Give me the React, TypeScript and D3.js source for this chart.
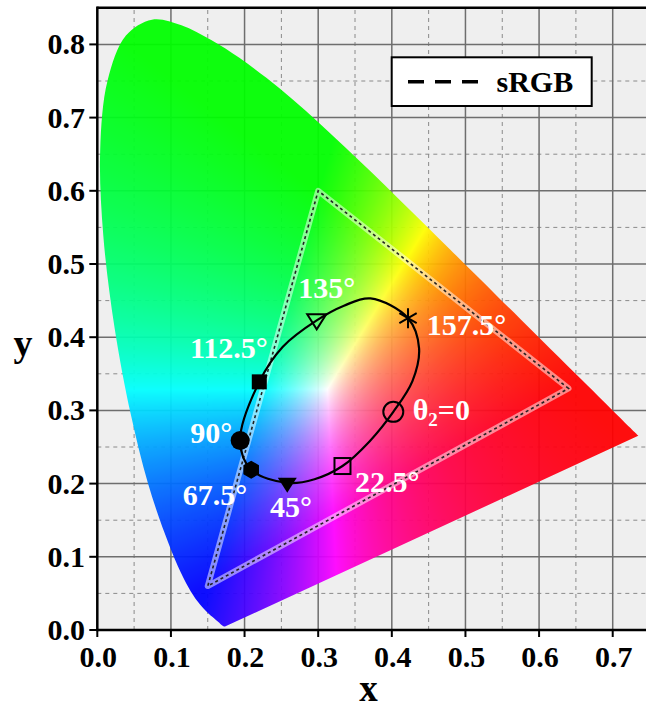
import React, { useMemo } from "react";
import * as d3 from "d3";

// CIE 1931 2° spectral locus (chromaticity x, y), 380–700 nm
const locusX = [0.1741, 0.174, 0.1738, 0.1736, 0.1733, 0.173, 0.1726, 0.1721, 0.1714, 0.1703, 0.1689, 0.1669, 0.1644, 0.1611, 0.1566, 0.151, 0.144, 0.1355, 0.1241, 0.1096, 0.0913, 0.0687, 0.0454, 0.0235, 0.0082, 0.0039, 0.0139, 0.0389, 0.0743, 0.1142, 0.1547, 0.1929, 0.2296, 0.2658, 0.3016, 0.3373, 0.3731, 0.4087, 0.4441, 0.4788, 0.5125, 0.5448, 0.5752, 0.6029, 0.627, 0.6482, 0.6658, 0.6801, 0.6915, 0.7006, 0.7079, 0.714, 0.719, 0.723, 0.726, 0.73, 0.7347];
const locusY = [0.005, 0.005, 0.0049, 0.0049, 0.0048, 0.0048, 0.0048, 0.0048, 0.0051, 0.0058, 0.0069, 0.0086, 0.0109, 0.0138, 0.0177, 0.0227, 0.0297, 0.0399, 0.0578, 0.0868, 0.1327, 0.2007, 0.295, 0.4127, 0.5384, 0.6548, 0.7502, 0.812, 0.8338, 0.8262, 0.8059, 0.7816, 0.7543, 0.7243, 0.6923, 0.6589, 0.6245, 0.5896, 0.5547, 0.5202, 0.4866, 0.4544, 0.4242, 0.3965, 0.3725, 0.3514, 0.334, 0.3197, 0.3083, 0.2993, 0.292, 0.2859, 0.2809, 0.277, 0.274, 0.27, 0.2653];

// sRGB primaries
const srgbX = [0.64, 0.3, 0.15];
const srgbY = [0.33, 0.6, 0.06];

// Closed curve traced through the θ2 points
const curveX = [0.402, 0.37, 0.333, 0.295, 0.258, 0.209, 0.194, 0.22, 0.252, 0.298, 0.335, 0.371, 0.422, 0.437, 0.428];
const curveY = [0.298, 0.258, 0.224, 0.206, 0.201, 0.219, 0.259, 0.339, 0.387, 0.423, 0.443, 0.453, 0.426, 0.385, 0.34];

// Marked θ2 points
const angleLabels = ["0", "22.5°", "45°", "67.5°", "90°", "112.5°", "135°", "157.5°"];
const markX = [0.402, 0.333, 0.258, 0.209, 0.194, 0.22, 0.298, 0.422];
const markY = [0.298, 0.224, 0.201, 0.219, 0.259, 0.339, 0.423, 0.426];
const markShape = ["circleOpen", "squareOpen", "triDownFilled", "hexFilled", "circleFilled", "squareFilled", "triDownOpen", "asterisk"];

const xTicks = [0, 0.1, 0.2, 0.3, 0.4, 0.5, 0.6, 0.7];
const yTicks = [0, 0.1, 0.2, 0.3, 0.4, 0.5, 0.6, 0.7, 0.8];
const xMinor = [0.05, 0.15, 0.25, 0.35, 0.45, 0.55, 0.65, 0.75];
const yMinor = [0.05, 0.15, 0.25, 0.35, 0.45, 0.55, 0.65, 0.75, 0.85];

// layout
const W = 646;
const H = 710;
const X0 = 97.3;
const PXX = 736.3;
const Y0 = 630;
const PXY = 732;
const labelDx = [19.4, 12.5, -17.3, -68.5, -50, -69.3, -18.4, 18.7];
const labelDy = [8.1, 25.7, 33.8, 35.3, 2.6, -23.6, -22.1, 16.8];
const FONT = "'Liberation Serif', 'Times New Roman', serif";

const x = d3.scaleLinear().domain([0, 0.75]).range([X0, X0 + 0.75 * PXX]);
const y = d3.scaleLinear().domain([0, 0.85]).range([Y0, Y0 - 0.85 * PXY]);

function buildImage(ix0: number, iy0: number, w: number, h: number): string {
  const canvas = document.createElement("canvas");
  canvas.width = w;
  canvas.height = h;
  const ctx = canvas.getContext("2d");
  if (!ctx) return "";
  const img = ctx.createImageData(w, h);
  for (let j = 0; j < h; j++) {
    const cy = y.invert(iy0 + j + 0.5);
    for (let i = 0; i < w; i++) {
      const cx = x.invert(ix0 + i + 0.5);
      const k = (j * w + i) * 4;
      if (cy <= 0.0005) {
        img.data[k + 3] = 0;
        continue;
      }
      const X = cx / cy;
      const Y = 1;
      const Z = (1 - cx - cy) / cy;
      let r = 3.2406 * X - 1.5372 * Y - 0.4986 * Z;
      let g = -0.9689 * X + 1.8758 * Y + 0.0415 * Z;
      let b = 0.0557 * X - 0.204 * Y + 1.057 * Z;
      r = Math.max(0, r);
      g = Math.max(0, g);
      b = Math.max(0, b);
      const m = Math.max(r, g, b) || 1;
      img.data[k] = Math.round((255 * r) / m);
      img.data[k + 1] = Math.round((255 * g) / m);
      img.data[k + 2] = Math.round((255 * b) / m);
      img.data[k + 3] = 255;
    }
  }
  ctx.putImageData(img, 0, 0);
  return canvas.toDataURL("image/png");
}

function Marker({ shape, cx, cy }: { shape: string; cx: number; cy: number }) {
  const sw = 2;
  switch (shape) {
    case "circleOpen":
      return <circle cx={cx} cy={cy} r={10} fill="none" stroke="#000" strokeWidth={sw} />;
    case "circleFilled":
      return <circle cx={cx} cy={cy} r={9.5} fill="#000" />;
    case "squareOpen":
      return <rect x={cx - 8} y={cy - 8} width={16} height={16} fill="none" stroke="#000" strokeWidth={sw} />;
    case "squareFilled":
      return <rect x={cx - 7.5} y={cy - 7.5} width={15} height={15} fill="#000" />;
    case "triDownFilled":
      return <path d={`M${cx - 9.5},${cy - 5}L${cx + 9.5},${cy - 5}L${cx},${cy + 10}Z`} fill="#000" />;
    case "triDownOpen":
      return (
        <path
          d={`M${cx - 9.5},${cy - 6}L${cx + 9.5},${cy - 6}L${cx},${cy + 9}Z`}
          fill="none"
          stroke="#000"
          strokeWidth={sw}
          strokeLinejoin="miter"
        />
      );
    case "hexFilled": {
      const pts = d3.range(6).map((i) => {
        const a = (Math.PI / 3) * i + Math.PI / 6;
        return [cx + 9 * Math.cos(a), cy + 9 * Math.sin(a)];
      });
      return <path d={"M" + pts.map((p) => p.join(",")).join("L") + "Z"} fill="#000" />;
    }
    case "asterisk": {
      const L = 10;
      const d = d3
        .range(3)
        .map((i) => {
          const a = (Math.PI / 3) * i + Math.PI / 2;
          const dx = L * Math.cos(a);
          const dy = L * Math.sin(a);
          return `M${cx - dx},${cy - dy}L${cx + dx},${cy + dy}`;
        })
        .join("");
      return <path d={d} stroke="#000" strokeWidth={sw} fill="none" />;
    }
    default:
      return null;
  }
}

export default function App() {
  const xr = x.range();
  const yr = y.range();
  const ix0 = Math.floor(xr[0]);
  const ix1 = Math.ceil(xr[1]);
  const iy0 = Math.floor(yr[1]);
  const iy1 = Math.ceil(yr[0]);
  const imgW = ix1 - ix0;
  const imgH = iy1 - iy0;

  const dataUrl = useMemo(() => buildImage(ix0, iy0, imgW, imgH), []);

  const locusPath = useMemo(() => {
    const line = d3
      .line<number>()
      .x((i) => x(locusX[i]))
      .y((i) => y(locusY[i]))
      .curve(d3.curveCatmullRom.alpha(0.5));
    return line(d3.range(locusX.length)) + "Z";
  }, []);

  const srgbPath =
    d3
      .line<number>()
      .x((i) => x(srgbX[i]))
      .y((i) => y(srgbY[i]))(d3.range(srgbX.length)) + "Z";

  const curvePath = d3
    .line<number>()
    .x((i) => x(curveX[i]))
    .y((i) => y(curveY[i]))
    .curve(d3.curveCatmullRomClosed.alpha(0.5))(d3.range(curveX.length)) as string;

  const plotRight = W + 10;

  return (
    <svg
      width={W}
      height={H}
      style={{ position: "absolute", left: 0, top: 0, background: "#fff" }}
      fontFamily={FONT}
    >
      <defs>
        <clipPath id="locusClip">
          <path d={locusPath} />
        </clipPath>
        <clipPath id="plotClip">
          <rect x={xr[0]} y={yr[1]} width={plotRight - xr[0]} height={yr[0] - yr[1]} />
        </clipPath>
      </defs>

      <g clipPath="url(#plotClip)">
        <rect x={xr[0]} y={yr[1]} width={plotRight - xr[0]} height={yr[0] - yr[1]} fill="#efefef" />
        {xMinor.map((t) => (
          <line key={"xm" + t} x1={x(t)} x2={x(t)} y1={yr[0]} y2={yr[1]} stroke="#8a8a8a" strokeWidth={1} strokeDasharray="4,4" />
        ))}
        {yMinor.map((t) => (
          <line key={"ym" + t} x1={xr[0]} x2={plotRight} y1={y(t)} y2={y(t)} stroke="#8a8a8a" strokeWidth={1} strokeDasharray="4,4" />
        ))}
        {xTicks.map((t) => (
          <line key={"xg" + t} x1={x(t)} x2={x(t)} y1={yr[0]} y2={yr[1]} stroke="#6e6e6e" strokeWidth={1.5} />
        ))}
        {yTicks.map((t) => (
          <line key={"yg" + t} x1={xr[0]} x2={plotRight} y1={y(t)} y2={y(t)} stroke="#6e6e6e" strokeWidth={1.5} />
        ))}

        <image
          href={dataUrl}
          x={ix0}
          y={iy0}
          width={imgW}
          height={imgH}
          clipPath="url(#locusClip)"
          opacity={0.94}
          preserveAspectRatio="none"
        />

        {/* sRGB triangle */}
        <path d={srgbPath} fill="none" stroke="rgba(255,255,255,0.5)" strokeWidth={6} strokeLinejoin="round" />
        <path d={srgbPath} fill="none" stroke="#222" strokeWidth={1.6} strokeDasharray="3,3" />

        {/* closed curve */}
        <path d={curvePath} fill="none" stroke="#000" strokeWidth={2.2} />

        {markShape.map((s, i) => (
          <Marker key={"m" + i} shape={s} cx={x(markX[i])} cy={y(markY[i])} />
        ))}

        {angleLabels.map((lab, i) => {
          const lx = x(markX[i]) + labelDx[i];
          const ly = y(markY[i]) + labelDy[i];
          if (i === 0) {
            return (
              <text key={"l" + i} x={lx} y={ly} fill="#fff" fontSize={30} fontWeight="bold">
                θ
                <tspan fontSize={19} dy={6}>
                  2
                </tspan>
                <tspan dy={-6}>={lab}</tspan>
              </text>
            );
          }
          return (
            <text key={"l" + i} x={lx} y={ly} fill="#fff" fontSize={30} fontWeight="bold">
              {lab}
            </text>
          );
        })}

        {/* legend */}
        <rect x={391.7} y={57.3} width={200} height={48.7} fill="#fff" stroke="#000" strokeWidth={2} />
        <line x1={408} x2={480} y1={81.7} y2={81.7} stroke="#000" strokeWidth={3.5} strokeDasharray="16,11" />
        <text x={496.5} y={91.7} fontSize={30} fontWeight="bold" fill="#000">
          sRGB
        </text>
      </g>

      {/* frame */}
      <line x1={xr[0]} x2={W} y1={yr[1]} y2={yr[1]} stroke="#000" strokeWidth={2.5} />
      <line x1={xr[0]} x2={xr[0]} y1={yr[1] - 1.25} y2={yr[0] + 1.25} stroke="#000" strokeWidth={2.5} />
      <line x1={xr[0]} x2={W} y1={yr[0]} y2={yr[0]} stroke="#000" strokeWidth={2.5} />

      {/* ticks */}
      {yTicks.map((t) => (
        <g key={"yt" + t}>
          <line x1={xr[0] - 8} x2={xr[0]} y1={y(t)} y2={y(t)} stroke="#000" strokeWidth={2} />
          <text x={85} y={y(t) + 10} textAnchor="end" fontSize={30} fontWeight="bold" fill="#000">
            {d3.format(".1f")(t)}
          </text>
        </g>
      ))}
      {xTicks.map((t) => (
        <g key={"xt" + t}>
          <line x1={x(t)} x2={x(t)} y1={yr[0]} y2={yr[0] + 7} stroke="#000" strokeWidth={2} />
          <text x={x(t) + 1} y={666.7} textAnchor="middle" fontSize={30} fontWeight="bold" fill="#000">
            {d3.format(".1f")(t)}
          </text>
        </g>
      ))}

      {/* axis titles */}
      <text x={368.5} y={701} textAnchor="middle" fontSize={37} fontWeight="bold" fill="#000">
        x
      </text>
      <text x={23} y={356} textAnchor="middle" fontSize={38} fontWeight="bold" fill="#000">
        y
      </text>
    </svg>
  );
}
